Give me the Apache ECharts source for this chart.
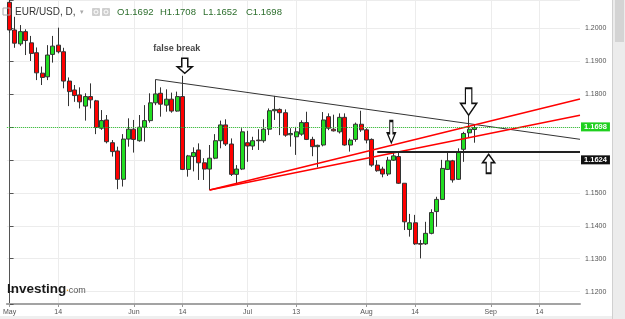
<!DOCTYPE html>
<html>
<head>
<meta charset="utf-8">
<script src="https://cdn.jsdelivr.net/npm/echarts@6/dist/echarts.min.js"></script>
<style>html,body{margin:0;padding:0;background:#fff;}</style>
</head>
<body>
<div id="main" style="width:625px;height:319px"></div>
<script type="text/javascript">
// trading days of 2018 on the axis (the last ones are empty space on the right)
var may = [1,2,3,4,7,8,9,10,11,14,15,16,17,18,21,22,23,24,25,28,29,30,31];
var jun = [1,4,5,6,7,8,11,12,13,14,15,18,19,20,21,22,25,26,27,28,29];
var jul = [2,3,4,5,6,9,10,11,12,13,16,17,18,19,20,23,24,25,26,27,30,31];
var aug = [1,2,3,6,7,8,9,10,13,14,15,16,17,20,21,22,23,24,27,28,29,30,31];
var sep = [3,4,5,6,7,10,11,12,13,14,17,18,19,20,21,24,25];

var tickLabels = {
    '2018-05-01': 'May', '2018-05-14': '14', '2018-06-01': 'Jun', '2018-06-14': '14',
    '2018-07-02': 'Jul', '2018-07-13': '13', '2018-08-01': 'Aug', '2018-08-14': '14',
    '2018-09-03': 'Sep', '2018-09-14': '14'
};

// EUR/USD daily candles from May 1: open, high, low, close
var ohlc = [
    [1.2078, 1.2089, 1.1985, 1.1994], [1.1994, 1.2034, 1.1940, 1.1954], [1.1952, 1.2009, 1.1946, 1.1989],
    [1.1989, 1.1996, 1.1918, 1.1962], [1.1955, 1.1976, 1.1900, 1.1923], [1.1925, 1.1941, 1.1842, 1.1864],
    [1.1863, 1.1883, 1.1827, 1.1850], [1.1852, 1.1948, 1.1842, 1.1918], [1.1920, 1.1976, 1.1895, 1.1945],
    [1.1948, 1.2001, 1.1923, 1.1928], [1.1928, 1.1940, 1.1817, 1.1839], [1.1839, 1.1850, 1.1763, 1.1807],
    [1.1812, 1.1827, 1.1776, 1.1795], [1.1797, 1.1820, 1.1756, 1.1776], [1.1763, 1.1802, 1.1719, 1.1792],
    [1.1792, 1.1832, 1.1756, 1.1782], [1.1779, 1.1782, 1.1678, 1.1698], [1.1696, 1.1751, 1.1691, 1.1719],
    [1.1721, 1.1736, 1.1650, 1.1655], [1.1652, 1.1660, 1.1610, 1.1625], [1.1627, 1.1640, 1.1511, 1.1541],
    [1.1541, 1.1678, 1.1519, 1.1663], [1.1663, 1.1726, 1.1640, 1.1693], [1.1693, 1.1721, 1.1622, 1.1662],
    [1.1658, 1.1736, 1.1655, 1.1699], [1.1699, 1.1766, 1.1655, 1.1719], [1.1719, 1.1802, 1.1713, 1.1773],
    [1.1773, 1.1844, 1.1766, 1.1800], [1.1802, 1.1820, 1.1731, 1.1769], [1.1766, 1.1814, 1.1746, 1.1784],
    [1.1784, 1.1804, 1.1743, 1.1748], [1.1748, 1.1807, 1.1746, 1.1792], [1.1792, 1.1855, 1.1569, 1.1571],
    [1.1571, 1.1615, 1.1549, 1.1612], [1.1610, 1.1638, 1.1565, 1.1622], [1.1630, 1.1650, 1.1539, 1.1591],
    [1.1591, 1.1605, 1.1539, 1.1572], [1.1572, 1.1645, 1.1508, 1.1605], [1.1605, 1.1678, 1.1602, 1.1658],
    [1.1658, 1.1719, 1.1635, 1.1706], [1.1706, 1.1723, 1.1642, 1.1648], [1.1648, 1.1665, 1.1551, 1.1556],
    [1.1556, 1.1584, 1.1529, 1.1572], [1.1572, 1.1696, 1.1569, 1.1685], [1.1652, 1.1688, 1.1594, 1.1642],
    [1.1642, 1.1670, 1.1630, 1.1658], [1.1660, 1.1693, 1.1630, 1.1658], [1.1658, 1.1723, 1.1652, 1.1693],
    [1.1693, 1.1756, 1.1675, 1.1749], [1.1749, 1.1794, 1.1721, 1.1753], [1.1753, 1.1756, 1.1675, 1.1743],
    [1.1743, 1.1753, 1.1670, 1.1675], [1.1676, 1.1696, 1.1640, 1.1680], [1.1670, 1.1700, 1.1615, 1.1685],
    [1.1678, 1.1720, 1.1673, 1.1713], [1.1713, 1.1746, 1.1660, 1.1662], [1.1662, 1.1670, 1.1611, 1.1640],
    [1.1640, 1.1646, 1.1577, 1.1644], [1.1645, 1.1745, 1.1641, 1.1721], [1.1731, 1.1741, 1.1690, 1.1696],
    [1.1693, 1.1737, 1.1686, 1.1688], [1.1685, 1.1741, 1.1680, 1.1729], [1.1729, 1.1741, 1.1643, 1.1645],
    [1.1645, 1.1665, 1.1625, 1.1660], [1.1662, 1.1713, 1.1655, 1.1708], [1.1708, 1.1749, 1.1685, 1.1691],
    [1.1691, 1.1696, 1.1650, 1.1660], [1.1662, 1.1665, 1.1579, 1.1584], [1.1584, 1.1599, 1.1564, 1.1567],
    [1.1572, 1.1579, 1.1547, 1.1557], [1.1557, 1.1609, 1.1551, 1.1599], [1.1599, 1.1625, 1.1597, 1.1612],
    [1.1610, 1.1625, 1.1527, 1.1529], [1.1529, 1.1529, 1.1387, 1.1412], [1.1389, 1.1436, 1.1367, 1.1409],
    [1.1409, 1.1433, 1.1342, 1.1345], [1.1346, 1.1357, 1.1301, 1.1344], [1.1345, 1.1412, 1.1342, 1.1377],
    [1.1377, 1.1450, 1.1374, 1.1440], [1.1443, 1.1488, 1.1397, 1.1480], [1.1480, 1.1600, 1.1478, 1.1574],
    [1.1571, 1.1622, 1.1569, 1.1597], [1.1597, 1.1600, 1.1531, 1.1539], [1.1541, 1.1635, 1.1539, 1.1625],
    [1.1632, 1.1685, 1.1594, 1.1680], [1.1682, 1.1736, 1.1668, 1.1693], [1.1692, 1.1708, 1.1652, 1.1698]
];

var lastPrice = 1.1698;
var supportLevel = 1.1624;

// drawn lines, [day index, price]
var blackTrend = [[27, 1.18437], [105.5, 1.16623]];
var redUpper = [[37, 1.15085], [105.5, 1.17846]];
var redLower = [[37, 1.15085], [105.5, 1.17351]];
var supportLine = [[68, 1.1624], [105.5, 1.1624]];
var downArrows = [[32.4, 1.18853], [70.6, 1.16848], [84.9, 1.17764]];
var upArrows = [[88.6, 1.1588]];
var notes = [[30.9, 1.19363, 'false break']];

var dates = [];
[['05', may], ['06', jun], ['07', jul], ['08', aug], ['09', sep]].forEach(function (m) {
    m[1].forEach(function (d) {
        dates.push('2018-' + m[0] + '-' + (d < 10 ? '0' : '') + d);
    });
});

// echarts wants open, close, low, high
var candles = ohlc.map(function (r) { return [r[0], r[3], r[2], r[1]]; });

var showTick = function (i, v) { return tickLabels[v] !== undefined; };
var downPath = 'path://M3,0 L7,0 L7,9 L10,9 L5,16 L0,9 L3,9 Z';
var upPath = 'path://M5,0 L10,7 L7,7 L7,16 L3,16 L3,7 L0,7 Z';
var downSizes = [[15, 15], [8, 22], [16, 27]];
var tagLabel = function (txt, bg) {
    return {
        show: true, position: 'end', distance: 1, formatter: txt,
        color: '#fff', backgroundColor: bg, fontSize: 7.5, fontWeight: 'bold',
        fontFamily: 'Liberation Sans, Arial', padding: [1, 3, 0, 3], lineHeight: 8
    };
};

var myChart = echarts.init(document.getElementById('main'));
var option = {
    animation: false,
    backgroundColor: '#fff',
    grid: { left: 2.3, right: 45, top: 0, bottom: 15 },
    xAxis: [{
        type: 'category',
        data: dates,
        boundaryGap: true,
        axisLine: { lineStyle: { color: '#a3a3a3', width: 2 } },
        axisTick: { show: true, alignWithLabel: true, interval: showTick, length: 3, lineStyle: { color: '#999' } },
        axisLabel: {
            interval: showTick, fontSize: 7, color: '#555', margin: 5,
            fontFamily: 'Liberation Sans, Arial, sans-serif',
            formatter: function (v) { return tickLabels[v] || ''; }
        },
        splitLine: { show: true, alignWithLabel: true, interval: showTick, lineStyle: { color: '#ececec' } }
    }, {
        type: 'value', min: -0.5, max: 105.5, show: false
    }],
    yAxis: {
        type: 'value',
        position: 'right',
        min: 1.11626,
        max: 1.2085,
        splitNumber: 9,
        axisLine: { show: true, lineStyle: { color: '#555' } },
        axisTick: { show: true, length: 4, lineStyle: { color: '#555' } },
        axisLabel: {
            fontSize: 7, color: '#555', margin: 5,
            fontFamily: 'Liberation Sans, Arial, sans-serif',
            formatter: function (v) {
                return Math.abs(v * 100 - Math.round(v * 100)) < 1e-6 ? v.toFixed(4) : '';
            }
        },
        splitLine: { lineStyle: { color: '#ececec' } }
    },
    graphic: [
        { type: 'rect', shape: { x: 3, y: 8, width: 7, height: 7 }, style: { fill: 'none', stroke: '#aaa', lineWidth: 1 }, z: 100 },
        { type: 'text', x: 15, y: 12, style: { text: 'EUR/USD, D,', font: '10px Liberation Sans, Arial', fill: '#333', verticalAlign: 'middle' }, z: 100 },
        { type: 'text', x: 80, y: 12, style: { text: '\u25BE', font: '7px DejaVu Sans', fill: '#aaa', verticalAlign: 'middle' }, z: 100 },
        { type: 'rect', shape: { x: 92, y: 8, width: 8, height: 8, r: 1 }, style: { fill: '#cfcfcf' }, z: 100 },
        { type: 'circle', shape: { cx: 96, cy: 12, r: 2 }, style: { fill: 'none', stroke: '#fff', lineWidth: 1 }, z: 101 },
        { type: 'rect', shape: { x: 102, y: 8, width: 8, height: 8, r: 1 }, style: { fill: '#cfcfcf' }, z: 100 },
        { type: 'circle', shape: { cx: 106, cy: 12, r: 2 }, style: { fill: 'none', stroke: '#fff', lineWidth: 1 }, z: 101 },
        { type: 'text', x: 117, y: 12, style: { text: 'O1.1692', font: '9.5px Liberation Sans, Arial', fill: '#2d6e2d', verticalAlign: 'middle' }, z: 100 },
        { type: 'text', x: 160, y: 12, style: { text: 'H1.1708', font: '9.5px Liberation Sans, Arial', fill: '#2d6e2d', verticalAlign: 'middle' }, z: 100 },
        { type: 'text', x: 203, y: 12, style: { text: 'L1.1652', font: '9.5px Liberation Sans, Arial', fill: '#2d6e2d', verticalAlign: 'middle' }, z: 100 },
        { type: 'text', x: 246, y: 12, style: { text: 'C1.1698', font: '9.5px Liberation Sans, Arial', fill: '#2d6e2d', verticalAlign: 'middle' }, z: 100 },
        {
            type: 'text', x: 7, y: 289, z: 100,
            style: {
                text: '{a|Investing}{b|.}{c|com}', verticalAlign: 'middle',
                rich: {
                    a: { font: 'bold 13.5px Liberation Sans, Arial', fill: '#1a1a1a' },
                    b: { font: 'bold 9px Liberation Sans, Arial', fill: '#f0a020' },
                    c: { font: '9px Liberation Sans, Arial', fill: '#555', padding: [3, 0, 0, 0] }
                }
            }
        },
        { type: 'rect', shape: { x: 612, y: 0, width: 13, height: 319 }, style: { fill: '#ececec' }, z: 100 },
        { type: 'line', shape: { x1: 612.5, y1: 0, x2: 612.5, y2: 319 }, style: { stroke: '#d0d0d0' }, z: 101 },
        { type: 'rect', shape: { x: 615, y: 0, width: 9, height: 42 }, style: { fill: '#d4d4d4' }, z: 101 },
        { type: 'rect', shape: { x: 0, y: 316, width: 612, height: 3 }, style: { fill: '#efefef' }, z: 100 }
    ],
    series: [{
        name: 'EUR/USD',
        type: 'candlestick',
        data: candles,
        barWidth: 4.5,
        itemStyle: {
            color: '#22dd22', color0: '#ff0000',
            borderColor: '#333', borderColor0: '#333', borderWidth: 1
        },
        markLine: {
            silent: true,
            symbol: ['none', 'none'],
            data: [{
                yAxis: lastPrice,
                lineStyle: { color: '#2fc12f', type: 'dotted', width: 1 },
                label: tagLabel(lastPrice.toFixed(4), '#1fd01f')
            }, {
                yAxis: supportLevel,
                lineStyle: { color: 'rgba(0,0,0,0)', width: 1 },
                label: tagLabel(supportLevel.toFixed(4), '#111')
            }]
        }
    }, {
        type: 'line', xAxisIndex: 1, data: blackTrend, symbol: 'none', silent: true,
        lineStyle: { color: '#333', width: 1 }
    }, {
        type: 'line', xAxisIndex: 1, data: redUpper, symbol: 'none', silent: true,
        lineStyle: { color: '#ff0000', width: 1.5 }
    }, {
        type: 'line', xAxisIndex: 1, data: redLower, symbol: 'none', silent: true,
        lineStyle: { color: '#ff0000', width: 1.5 }
    }, {
        type: 'line', xAxisIndex: 1, data: supportLine, symbol: 'none', silent: true,
        lineStyle: { color: '#222', width: 2 }
    }, {
        type: 'scatter', xAxisIndex: 1, silent: true, z: 5,
        data: downArrows.map(function (p, i) {
            return { value: p, symbol: downPath, symbolSize: downSizes[i] };
        }),
        symbolKeepAspect: false,
        itemStyle: { color: '#fff', borderColor: '#111', borderWidth: 1.5, opacity: 1 }
    }, {
        type: 'scatter', xAxisIndex: 1, silent: true, z: 5,
        data: upArrows, symbol: upPath, symbolSize: [12, 19], symbolKeepAspect: false,
        itemStyle: { color: '#fff', borderColor: '#111', borderWidth: 1.5, opacity: 1 }
    }, {
        type: 'scatter', xAxisIndex: 1, silent: true, z: 6,
        data: notes.map(function (n) { return { value: [n[0], n[1]], name: n[2] }; }),
        symbolSize: 1, itemStyle: { color: 'rgba(0,0,0,0)' },
        label: {
            show: true, position: 'inside', formatter: '{b}',
            fontSize: 9, fontWeight: 'bold', color: '#111', fontFamily: 'Liberation Sans, Arial'
        }
    }]
};
myChart.setOption(option);
</script>
</body>
</html>
